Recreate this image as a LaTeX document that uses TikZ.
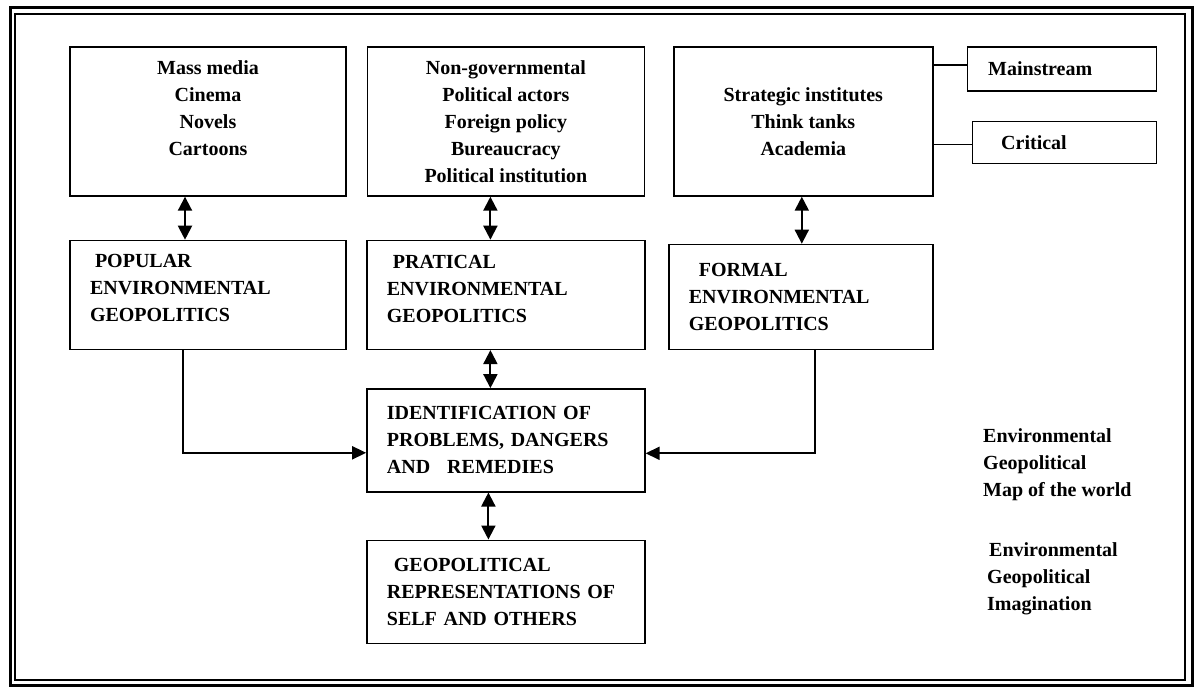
\documentclass[tikz,border=0pt]{standalone}
\usepackage{fontspec}
\setmainfont{Liberation Serif}
\usetikzlibrary{positioning, arrows.meta}

\begin{document}
\begin{tikzpicture}[
    x=1pt, y=-1pt,
    node distance=43pt,
    box/.style={
        rectangle,
        draw=black, line width=1.4pt,
        align=center,
        inner sep=0pt,
        minimum height=149pt,
        font=\bfseries\fontsize{20}{27}\selectfont
    },
    geobox/.style={
        box,
        align=left,
        inner xsep=20pt,
        text width=#1,
        minimum height=109pt
    },
    sidebox/.style={
        box,
        align=left,
        inner xsep=#1,
        minimum height=44pt
    },
    sidetext/.style={
        align=left, anchor=west,
        inner sep=0pt,
        font=\bfseries\fontsize{20}{27}\selectfont
    },
    twoway/.style={
        line width=2pt,
        {Triangle[length=14pt,width=14pt]}-{Triangle[length=14pt,width=14pt]}
    },
    link/.style={
        line width=1.8pt,
        -{Triangle[length=14pt,width=13pt]}
    }
]
\useasboundingbox (0,0) rectangle (1198,687);

% Frame
\draw[line width=3pt] (10,7.7) rectangle (1192,685);
\draw[line width=1.6pt] (15,14) rectangle (1185,680);

% Sources
\node[box,minimum width=276pt] (media) at (208,121.5)
{Mass media\\Cinema\\Novels\\Cartoons\\\mbox{}};
\node[box,minimum width=277pt,right=20pt of media] (policy)
{Non-governmental\\Political actors\\Foreign policy\\Bureaucracy\\Political institution};
\node[box,minimum width=259pt,right=28pt of policy] (institutes)
{Strategic institutes\\Think tanks\\Academia};

% Schools
\node[sidebox=21pt,text width=147pt,right=33pt of institutes.north east,anchor=north west] (mainstream)
{Mainstream};
\node[sidebox=29pt,text width=126pt,minimum height=42pt,below=29pt of mainstream.south east,anchor=north east] (critical)
{Critical};

% Geopolitics
\node[geobox=236pt,below=of media] (popular)
{\hspace*{5pt}POPULAR\\ENVIRONMENTAL\\GEOPOLITICS\\[-13pt]\mbox{}};
\node[geobox=238pt,below=of policy] (practical)
{\hspace*{6pt}PRATICAL\\ENVIRONMENTAL\\GEOPOLITICS\\[-15pt]\mbox{}};
\node[geobox=224pt,minimum height=105pt,below=47pt of institutes,xshift=-2.5pt] (formal)
{\hspace*{10pt}FORMAL\\ENVIRONMENTAL\\GEOPOLITICS};

% Outcomes
\node[geobox=238pt,minimum height=103pt,below=38pt of practical] (ident)
{IDENTIFICATION OF\\PROBLEMS, DANGERS\\AND\hspace{17pt}REMEDIES};
\node[geobox=238pt,minimum height=103pt,below=47pt of ident] (geo)
{\hspace*{7pt}GEOPOLITICAL\\REPRESENTATIONS OF\\SELF AND OTHERS};

% Side texts
\node[sidetext] (mapworld) at (983,465)
{Environmental\\Geopolitical\\Map of the world};
\node[sidetext] (imagination) at (987,579)
{\hspace*{2pt}Environmental\\Geopolitical\\Imagination};

% Connectors
\draw[twoway] ([xshift=-23pt]media.south) -- ([xshift=-23pt]media.south |- popular.north);
\draw[twoway] ([xshift=-15.5pt]policy.south) -- ([xshift=-15.5pt]policy.south |- practical.north);
\draw[twoway] ([xshift=-1.5pt]institutes.south) -- ([xshift=-1.5pt]institutes.south |- formal.north);
\draw[twoway] ([xshift=-15.5pt]practical.south) -- ([xshift=-15.5pt]practical.south |- ident.north);
\draw[twoway] ([xshift=-17.5pt]ident.south) -- ([xshift=-17.5pt]ident.south |- geo.north);

\draw[link] ([xshift=-25pt]popular.south) |- ([yshift=-12.5pt]ident.west);
\draw[link] ([xshift=14pt]formal.south) |- ([yshift=-13pt]ident.east);

\draw[line width=1.4pt] ([yshift=4pt]mainstream.west) -- ([yshift=4pt]mainstream.west -| institutes.east);
\draw[line width=1.4pt] ([yshift=-2pt]critical.west) -- ([yshift=-2pt]critical.west -| institutes.east);

\end{tikzpicture}
\end{document}
